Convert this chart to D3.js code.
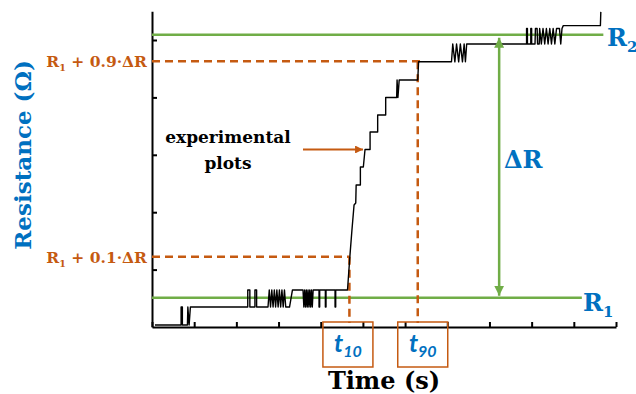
<!DOCTYPE html>
<html>
<head>
<meta charset="utf-8">
<script src="https://cdn.jsdelivr.net/npm/d3@7"></script>
<style>
  body { margin: 0; background: #fff; }
  svg { display: block; }
</style>
</head>
<body>
<svg></svg>
<script>
// time axis (s) and resistance axis, arbitrary units
const xTicks = [0, 10, 20, 30, 40, 50, 60, 70, 80, 90, 100, 110];
const yTicks = [10, 20, 30, 40, 50];

// levels
const r1 = 5.1;
const r2 = 50.9;
const r10 = 12.25;
const r90 = 46.3;
const t10 = 46.8;
const t90 = 63.0;

// the measured trace, [time, resistance]
const lowNoise = [
  [0.7, 0.35], [6.9, 0.35], [6.9, 3.48], [7.2, 3.48], [7.2, 0.35], [8.4, 0.35], [8.5, 3.48],
  [8.8, 0.35], [9.1, 3.48], [22.7, 3.48], [22.7, 6.45], [23.2, 6.45], [23.2, 3.48],
  [24.4, 3.48], [24.4, 6.45], [24.8, 6.45], [24.8, 3.48], [27.5, 3.48], [27.8, 6.45],
  [28.1, 3.48], [28.4, 6.45], [28.7, 3.48], [29.0, 6.45], [29.3, 3.48], [29.6, 6.45],
  [29.9, 3.48], [30.2, 6.45], [30.5, 3.48], [30.8, 6.45], [31.1, 3.48], [31.4, 6.45],
  [31.7, 3.48], [32.6, 3.48], [33.3, 6.45], [35.8, 6.45], [36.0, 3.48], [36.2, 6.45],
  [36.4, 3.48], [36.6, 6.45], [36.8, 3.48], [37.0, 6.45], [37.2, 3.48], [37.4, 6.45],
  [37.6, 3.48], [37.8, 6.45], [38.0, 3.48], [38.2, 6.45], [39.6, 6.45], [39.6, 3.48],
  [39.75, 3.48], [39.75, 6.45], [41.1, 6.45], [41.1, 3.48], [41.25, 3.48], [41.25, 6.45],
  [43.4, 6.45], [43.4, 3.48], [43.55, 3.48], [43.55, 6.45], [46.35, 6.45]
];
const rise = [
  [46.9, 12.2], [47.4, 16.9], [47.9, 21.25], [48.3, 21.6], [48.4, 24.74], [49.4, 24.74],
  [49.4, 27.87], [50.1, 27.87], [50.5, 30.92], [51.7, 30.92], [51.7, 33.97], [53.5, 33.97],
  [53.5, 36.93], [55.4, 36.93], [55.4, 39.98], [58.0, 39.98], [58.1, 43.03], [58.3, 39.98],
  [58.6, 43.03], [63.0, 43.03], [63.2, 46.2]
];
const highNoise = [
  [71.0, 46.2], [71.3, 49.3], [71.8, 46.2], [72.2, 49.3], [72.7, 46.2], [73.1, 49.3],
  [73.6, 46.2], [74.0, 49.3], [74.3, 46.2], [74.6, 49.3], [88.8, 49.3], [88.8, 52.0],
  [89.0, 52.0], [89.0, 49.3], [89.8, 49.3], [89.8, 52.0], [90.0, 52.0], [90.0, 49.3],
  [90.8, 49.3], [90.9, 52.0], [91.3, 52.0], [91.4, 49.3], [91.8, 49.3], [91.9, 52.0],
  [92.3, 49.3], [92.7, 52.0], [93.1, 49.3], [93.5, 52.0], [93.9, 49.3], [94.3, 52.0],
  [94.7, 49.3], [95.1, 52.0], [95.5, 49.3], [95.9, 52.0], [96.6, 52.0], [96.9, 49.3],
  [97.2, 52.0], [97.5, 52.5], [106.3, 52.5], [106.4, 54.9]
];
const trace = lowNoise.concat(rise, highNoise);

let width = 636;
let height = 394;
let margin = { top: 11.3, bottom: 67, left: 152, right: 20 };

const green = "#70ad47";
const orange = "#c55a11";
const blue = "#0070c0";
const serif = "'DejaVu Serif', serif";

let svg = d3.select("svg").attr("width", width).attr("height", height);

let x_scale = d3.scaleLinear().domain([0, 110]).range([margin.left, width - margin.right]);
let y_scale = d3.scaleLinear().domain([0, 55]).range([height - margin.bottom, margin.top]);

let defs = svg.append("defs");
defs.append("marker")
  .attr("id", "head-green")
  .attr("viewBox", "0 0 10 10")
  .attr("refX", 10).attr("refY", 5)
  .attr("markerWidth", 4).attr("markerHeight", 4)
  .attr("markerUnits", "strokeWidth")
  .attr("orient", "auto-start-reverse")
  .append("path").attr("d", "M0,0 L10,5 L0,10 z").attr("fill", green);
defs.append("marker")
  .attr("id", "head-orange")
  .attr("viewBox", "0 0 10 10")
  .attr("refX", 10).attr("refY", 5)
  .attr("markerWidth", 4.2).attr("markerHeight", 3.6)
  .attr("markerUnits", "strokeWidth")
  .attr("orient", "auto")
  .append("path").attr("d", "M0,0 L10,5 L0,10 z").attr("fill", orange);

// axes, ticks point inwards, no labels
svg.append("g")
  .attr("transform", `translate(0, ${y_scale(0)})`)
  .call(d3.axisBottom(x_scale).tickValues(xTicks).tickSizeInner(-5).tickSizeOuter(0).tickFormat(""))
  .call(g => g.selectAll("path, line").attr("stroke", "#000").attr("stroke-width", 2));

svg.append("g")
  .attr("transform", `translate(${x_scale(0)}, 0)`)
  .call(d3.axisLeft(y_scale).tickValues(yTicks).tickSizeInner(-5).tickSizeOuter(0).tickFormat(""))
  .call(g => g.selectAll("path, line").attr("stroke", "#000").attr("stroke-width", 2));

// R1 and R2 levels
svg.append("line")
  .attr("x1", x_scale(0)).attr("x2", x_scale(107))
  .attr("y1", y_scale(r2)).attr("y2", y_scale(r2))
  .attr("stroke", green).attr("stroke-width", 2.5);
svg.append("line")
  .attr("x1", x_scale(0)).attr("x2", x_scale(101.9))
  .attr("y1", y_scale(r1)).attr("y2", y_scale(r1))
  .attr("stroke", green).attr("stroke-width", 2.5);

// 10% and 90% guides
let dash = "8,5";
svg.append("line")
  .attr("x1", x_scale(0)).attr("x2", x_scale(t10))
  .attr("y1", y_scale(r10)).attr("y2", y_scale(r10))
  .attr("stroke", orange).attr("stroke-width", 2.5).attr("stroke-dasharray", dash);
svg.append("line")
  .attr("x1", x_scale(t10)).attr("x2", x_scale(t10))
  .attr("y1", y_scale(r10)).attr("y2", y_scale(0) - 4)
  .attr("stroke", orange).attr("stroke-width", 2.5).attr("stroke-dasharray", dash);
svg.append("line")
  .attr("x1", x_scale(0)).attr("x2", x_scale(t90 + 0.6))
  .attr("y1", y_scale(r90)).attr("y2", y_scale(r90))
  .attr("stroke", orange).attr("stroke-width", 2.5).attr("stroke-dasharray", dash);
svg.append("line")
  .attr("x1", x_scale(t90)).attr("x2", x_scale(t90))
  .attr("y1", y_scale(r90)).attr("y2", y_scale(0) - 4)
  .attr("stroke", orange).attr("stroke-width", 2.5).attr("stroke-dasharray", dash);

// the trace
let line = d3.line().x(d => x_scale(d[0])).y(d => y_scale(d[1]));
svg.append("path")
  .datum(trace)
  .attr("d", line)
  .attr("fill", "none")
  .attr("stroke", "#000")
  .attr("stroke-width", 1.4)
  .attr("stroke-linejoin", "round");

// delta R arrow
svg.append("line")
  .attr("x1", x_scale(82.3)).attr("x2", x_scale(82.3))
  .attr("y1", y_scale(r1) - 2).attr("y2", y_scale(r2) + 3)
  .attr("stroke", green).attr("stroke-width", 2.5)
  .attr("marker-start", "url(#head-green)")
  .attr("marker-end", "url(#head-green)");

// boxes under t10 / t90
let boxTop = y_scale(0) - 5;
[[t10, -26.5, "10"], [t90, -20, "90"]].forEach(([t, off, sub]) => {
  let bx = x_scale(t) + off;
  svg.append("rect")
    .attr("x", bx).attr("y", boxTop)
    .attr("width", 50).attr("height", 45)
    .attr("fill", "none").attr("stroke", orange).attr("stroke-width", 1.5);
  let tx = svg.append("text")
    .attr("x", bx + 25).attr("y", boxTop + 30)
    .attr("text-anchor", "middle")
    .attr("fill", blue)
    .style("font-family", "Lato, sans-serif")
    .style("font-weight", "bold").style("font-style", "italic");
  tx.append("tspan").style("font-size", "25px").text("t");
  tx.append("tspan").attr("dy", 5).style("font-size", "16px").text(sub);
});

// label helper for R with subscript
function rLabel(xp, yp, sub, rest, color, size, anchor) {
  let t = svg.append("text")
    .attr("x", xp).attr("y", yp)
    .attr("text-anchor", anchor)
    .attr("fill", color)
    .style("font-family", serif)
    .style("font-weight", "bold")
    .style("font-size", size + "px");
  t.append("tspan").text("R");
  t.append("tspan").attr("dy", size * 0.25).style("font-size", (size * 0.62) + "px").text(sub);
  if (rest) t.append("tspan").attr("dy", -size * 0.25).text(rest);
  return t;
}

rLabel(147, y_scale(r90) + 6, "1", " + 0.9·ΔR", orange, 15.5, "end");
rLabel(147, y_scale(r10) + 6, "1", " + 0.1·ΔR", orange, 15.5, "end");
rLabel(607, 46, "2", null, blue, 24, "start");
rLabel(583, 311, "1", null, blue, 24, "start");

svg.append("text")
  .attr("x", 504).attr("y", 168)
  .attr("fill", blue)
  .style("font-family", serif).style("font-weight", "bold").style("font-size", "24px")
  .text("ΔR");

// annotation for the trace
svg.append("text")
  .attr("x", 228).attr("y", 143)
  .attr("text-anchor", "middle")
  .style("font-family", serif).style("font-weight", "bold").style("font-size", "17px")
  .text("experimental");
svg.append("text")
  .attr("x", 228).attr("y", 169)
  .attr("text-anchor", "middle")
  .style("font-family", serif).style("font-weight", "bold").style("font-size", "17px")
  .text("plots");
svg.append("line")
  .attr("x1", 303).attr("x2", 363)
  .attr("y1", 149.5).attr("y2", 149.5)
  .attr("stroke", orange).attr("stroke-width", 2.2)
  .attr("marker-end", "url(#head-orange)");

// axis titles
svg.append("text")
  .attr("transform", "translate(31, 155) rotate(-90)")
  .attr("text-anchor", "middle")
  .attr("fill", blue)
  .style("font-family", serif).style("font-weight", "bold").style("font-size", "23px")
  .text("Resistance (Ω)");

svg.append("text")
  .attr("x", 384).attr("y", 389)
  .attr("text-anchor", "middle")
  .attr("fill", "#000")
  .style("font-family", serif).style("font-weight", "bold").style("font-size", "24px")
  .text("Time (s)");
</script>
</body>
</html>
